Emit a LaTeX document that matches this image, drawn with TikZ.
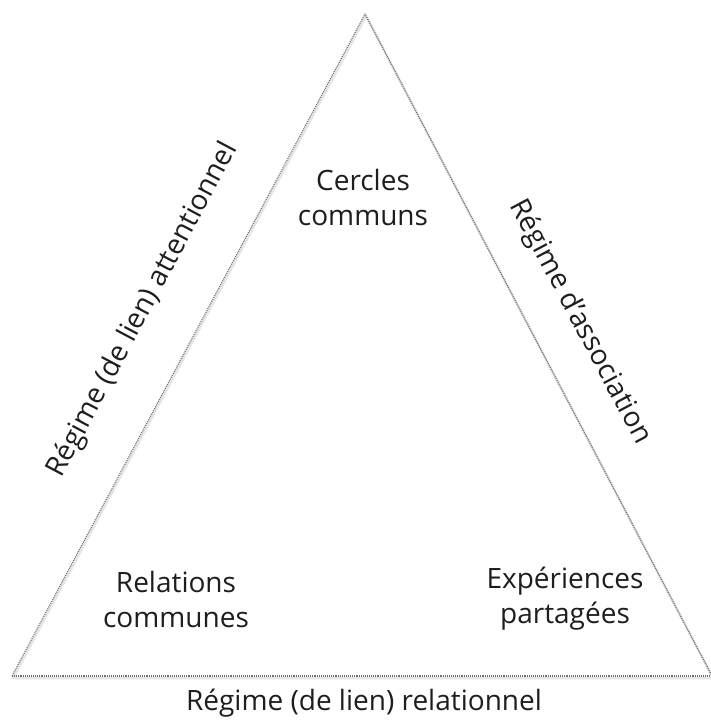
\documentclass[tikz,border=0pt]{standalone}
\usepackage{fontspec}
\setmainfont{Open Sans}
\usepackage{tikz}
\usetikzlibrary{positioning}

\tikzset{
  side/.style={color={rgb, 255:red, 110; green, 110; blue, 110}, line width=1.1, densely dotted},
  shade line/.style={color={rgb, 255:red, 228; green, 228; blue, 228}, line width=2.5},
  corner text/.style={align=center, font=\fontsize{28}{35}\selectfont, text={rgb, 255:red, 30; green, 30; blue, 30}},
  side text/.style={font=\fontsize{28}{30}\selectfont, text={rgb, 255:red, 30; green, 30; blue, 30}}
}

\begin{document}
\begin{tikzpicture}[x=1pt,y=1pt,yscale=-1,xscale=1]
\useasboundingbox (0,0) rectangle (711,720);
%Corners of the triangle
\coordinate (apex) at (365,14);
\coordinate (bl) at (12,676);
\coordinate (br) at (712,676);

%Shadow under the sides
\draw [shade line] ([shift={(1,2)}]bl) -- ([shift={(1,2)}]apex) -- ([shift={(1,2)}]br) -- cycle;

%Sides
\draw [side] (bl) -- (apex) -- (br);
\draw [side] (bl) -- (br);

%Labels of the sides
\node [side text, rotate=62] (attn) at (143,310) {Régime (de lien) attentionnel};
\node [side text, rotate=-62] (assoc) at (580,322) {Régime d'association};
\node [side text] (rel) at (364,703) {Régime (de lien) relationnel};

%Texts at the corners
\node [corner text] (cercles) at (363,197) {Cercles\\communs};
\node [corner text] (relations) at (176,599) {Relations\\communes};
\node [corner text] (experiences) at (565,599) {Expériences\\partagées};

\end{tikzpicture}
\end{document}
